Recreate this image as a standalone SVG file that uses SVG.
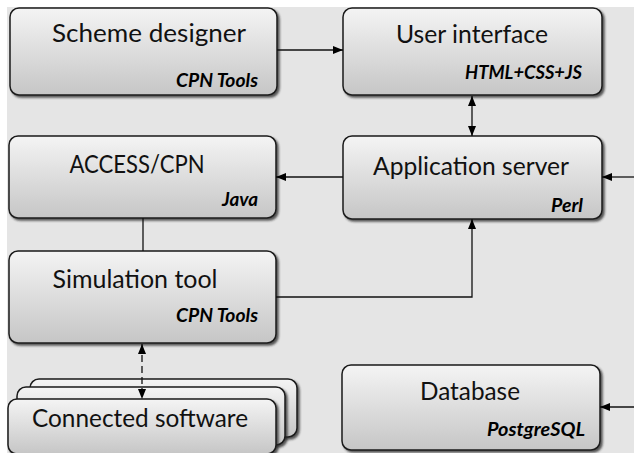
<svg xmlns="http://www.w3.org/2000/svg" width="634" height="453" viewBox="0 0 634 453">
<defs>
<linearGradient id="g" x1="0" y1="0" x2="0" y2="1">
<stop offset="0" stop-color="#f4f4f4"/>
<stop offset="1" stop-color="#c6c6c6"/>
</linearGradient>
<filter id="sh" x="-5%" y="-5%" width="115%" height="125%">
<feDropShadow dx="2" dy="2" stdDeviation="1.2" flood-color="#222" flood-opacity="0.75"/>
</filter>
<marker id="ah" viewBox="0 0 10 8" refX="10" refY="4" markerWidth="10" markerHeight="8" markerUnits="userSpaceOnUse" orient="auto-start-reverse">
<path d="M0,0 L10,4 L0,8 Z" fill="#000"/>
</marker>
</defs>
<style>
.box{fill:url(#g);stroke:#1a1a1a;stroke-width:1.5;filter:url(#sh)}
.t{font-family:Lato,"Open Sans",sans-serif;font-size:25px;fill:#111;text-anchor:middle}
.s{font-family:Lato,"Open Sans",sans-serif;font-size:18px;font-weight:bold;font-style:italic;fill:#000;text-anchor:end}
.c{fill:none;stroke:#111;stroke-width:1.3}
</style>
<rect x="0" y="0" width="634" height="453" fill="#fff"/>
<rect x="7" y="7" width="627" height="446" fill="#e5e5e5"/>

<g id="scheme-designer">
<rect class="box" x="10" y="8" width="267" height="87" rx="9"/>
<text class="t" x="149" y="42" textLength="194" lengthAdjust="spacingAndGlyphs">Scheme designer</text>
<text class="s" x="258" y="87" textLength="82" lengthAdjust="spacingAndGlyphs">CPN Tools</text>
</g>

<g id="user-interface">
<rect class="box" x="343" y="8" width="259" height="87" rx="9"/>
<text class="t" x="472" y="43" textLength="152" lengthAdjust="spacingAndGlyphs">User interface</text>
<text class="s" x="582" y="79" textLength="117" lengthAdjust="spacingAndGlyphs">HTML+CSS+JS</text>
</g>

<g id="access-cpn">
<rect class="box" x="9" y="136" width="267" height="82" rx="9"/>
<text class="t" x="137" y="173" textLength="135" lengthAdjust="spacingAndGlyphs">ACCESS/CPN</text>
<text class="s" x="258" y="206" textLength="36" lengthAdjust="spacingAndGlyphs">Java</text>
</g>

<g id="application-server">
<rect class="box" x="343" y="136" width="259" height="83" rx="9"/>
<text class="t" x="471" y="175" textLength="196" lengthAdjust="spacingAndGlyphs">Application server</text>
<text class="s" x="583" y="212" textLength="32" lengthAdjust="spacingAndGlyphs">Perl</text>
</g>

<g id="simulation-tool">
<rect class="box" x="9" y="251" width="267" height="92" rx="9"/>
<text class="t" x="135" y="288" textLength="165" lengthAdjust="spacingAndGlyphs">Simulation tool</text>
<text class="s" x="258" y="322" textLength="82" lengthAdjust="spacingAndGlyphs">CPN Tools</text>
</g>

<g id="connected-software">
<rect class="box" x="30" y="379" width="267" height="58" rx="9"/>
<rect class="box" x="17" y="387" width="268" height="58" rx="9"/>
<rect class="box" x="8" y="399" width="268" height="55" rx="9"/>
<text class="t" x="140" y="427" textLength="216" lengthAdjust="spacingAndGlyphs">Connected software</text>
</g>

<g id="database">
<rect class="box" x="342" y="365" width="258" height="85" rx="9"/>
<text class="t" x="470" y="400" textLength="100" lengthAdjust="spacingAndGlyphs">Database</text>
<text class="s" x="585" y="436" textLength="98" lengthAdjust="spacingAndGlyphs">PostgreSQL</text>
</g>

<g id="connectors">
<line class="c" x1="277" y1="50" x2="343" y2="50" marker-end="url(#ah)"/>
<line class="c" x1="472" y1="96" x2="472" y2="136" marker-start="url(#ah)" marker-end="url(#ah)"/>
<line class="c" x1="343" y1="177" x2="276" y2="177" marker-end="url(#ah)"/>
<line class="c" x1="634" y1="177" x2="602" y2="177" marker-end="url(#ah)"/>
<line class="c" x1="143" y1="218" x2="143" y2="251"/>
<polyline class="c" points="276,297 472,297 472,219" marker-end="url(#ah)"/>
<line class="c" x1="634" y1="407" x2="600" y2="407" marker-end="url(#ah)"/>
<line class="c" x1="142" y1="344" x2="142" y2="399" stroke-dasharray="7,4" marker-start="url(#ah)" marker-end="url(#ah)"/>
</g>
</svg>
